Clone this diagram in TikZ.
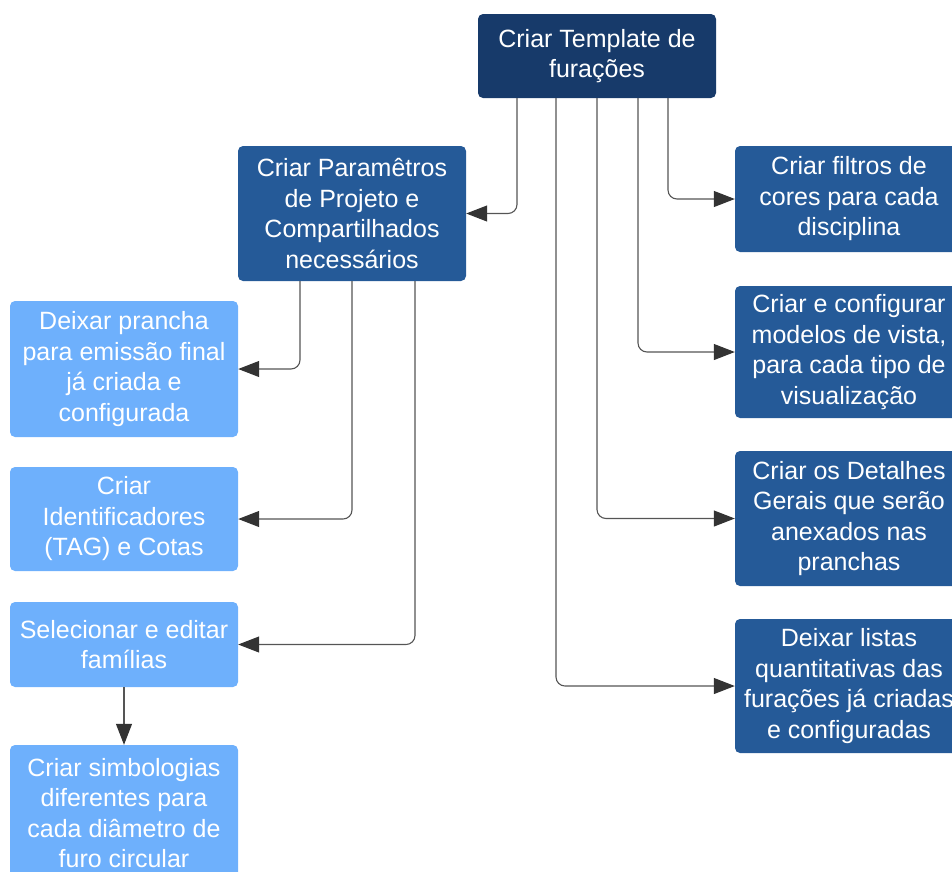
\documentclass[tikz,border=0pt]{standalone}
\usepackage{fontspec}
\setmainfont{Liberation Sans}
\usetikzlibrary{arrows.meta}
\definecolor{navy}{HTML}{173A6A}
\definecolor{midblue}{HTML}{255A98}
\definecolor{lightblue}{HTML}{6EB0FC}
\definecolor{linegray}{HTML}{555555}

\begin{document}
\begin{tikzpicture}[x=1pt,y=-1pt,
  box/.style={rounded corners=5pt,text=white,align=center,inner sep=0pt,
    minimum width=228pt,font=\fontsize{25}{30.5}\selectfont},
  mainbox/.style={box,fill=navy},
  subbox/.style={box,fill=midblue},
  leafbox/.style={box,fill=lightblue},
  conn/.style={draw=linegray,line width=1.1pt,rounded corners=9pt,
    -{Triangle[length=21pt,width=16pt,fill=black!80,color=black!80]}}]
\clip (0,0) rectangle (952,871);
\node[mainbox,minimum width=238pt,minimum height=84pt] (top) at (597,56) {Criar Template de\\furações};
\node[subbox,minimum height=135pt] (param) at (352,213.5) {Criar Paramêtros\\de Projeto e\\Compartilhados\\necessários};
\node[leafbox,minimum height=136pt] (prancha) at (124,369) {Deixar prancha\\para emissão final\\já criada e\\configurada};
\node[leafbox,minimum height=104pt] (ident) at (124,519) {Criar\\Identificadores\\(TAG) e Cotas};
\node[leafbox,minimum height=85pt] (selec) at (124,644.5) {Selecionar e editar\\famílias};
\node[leafbox,minimum height=136pt] (simb) at (124,813) {Criar simbologias\\diferentes para\\cada diâmetro de\\furo circular};
\node[subbox,minimum height=106pt] (filtros) at (849,199) {Criar filtros de\\cores para cada\\disciplina};
\node[subbox,minimum height=132pt] (modelos) at (849,352) {Criar e configurar\\modelos de vista,\\para cada tipo de\\visualização};
\node[subbox,minimum height=135pt] (detalhes) at (849,518.5) {Criar os Detalhes\\Gerais que serão\\anexados nas\\pranchas};
\node[subbox,minimum height=134pt] (listas) at (849,686) {Deixar listas\\quantitativas das\\furações já criadas\\e configuradas};
% from the template box
\draw[conn] ([xshift=-80pt]top.south) |- (param.east);
\draw[conn] ([xshift=-41pt]top.south) |- (listas.west);
\draw[conn] ([xshift=0pt]top.south) |- (detalhes.west);
\draw[conn] ([xshift=41pt]top.south) |- (modelos.west);
\draw[conn] ([xshift=71pt]top.south) |- (filtros.west);
% from the parameters box
\draw[conn] ([xshift=-52pt]param.south) |- (prancha.east);
\draw[conn] (param.south) |- (ident.east);
\draw[conn] ([xshift=63pt]param.south) |- (selec.east);
\draw[conn] (selec.south) -- (simb.north);
\end{tikzpicture}
\end{document}
